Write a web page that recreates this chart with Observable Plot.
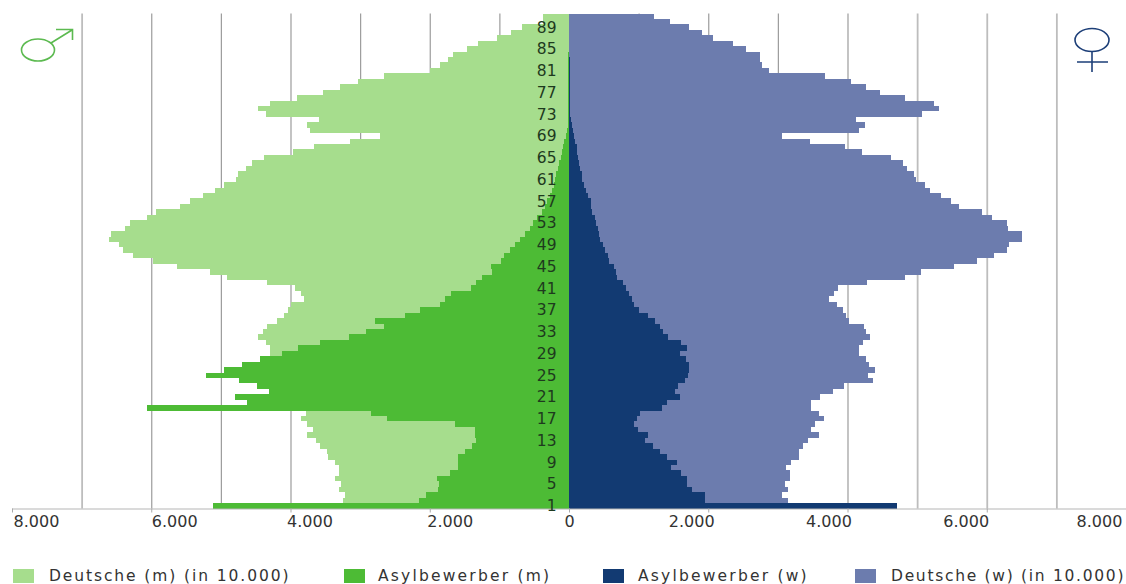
<!DOCTYPE html>
<html><head><meta charset="utf-8">
<script src="https://cdn.jsdelivr.net/npm/d3@7"></script>
<script src="https://cdn.jsdelivr.net/npm/@observablehq/plot@0.6"></script>
<style>
html,body{margin:0;padding:0;background:#fff;overflow:hidden}
#wrap{position:relative;width:1126px;height:584px;overflow:hidden;font-family:"DejaVu Sans",sans-serif}
#chart svg{display:block}
.sw{position:absolute;top:569px;width:21px;height:14px}
.lb{position:absolute;top:568px;font-size:15.5px;line-height:16px;color:#333;white-space:nowrap}
#sym{position:absolute;left:0;top:0}
</style></head><body>
<div id="wrap"><div id="chart"></div></div>
<script>
// ages from 91 down to 1
const ages = [91,90,89,88,87,86,85,84,83,82,81,80,79,78,77,76,75,74,73,72,71,70,69,68,67,66,65,64,63,62,61,60,59,58,57,56,55,54,53,52,51,50,49,48,47,46,45,44,43,42,41,40,39,38,37,36,35,34,33,32,31,30,29,28,27,26,25,24,23,22,21,20,19,18,17,16,15,14,13,12,11,10,9,8,7,6,5,4,3,2,1];
const deutscheM = [370,370,670,840,1040,1300,1470,1670,1740,1850,2000,2660,3030,3290,3530,3910,4300,4470,4350,3590,3770,3720,2720,3150,3660,3960,4380,4560,4640,4750,4780,4960,5080,5250,5440,5590,5930,6060,6300,6380,6580,6610,6460,6400,6260,5980,5630,5150,4910,4340,3930,3850,3810,4000,4040,4100,4200,4340,4400,4470,4350,4300,4290,4290,4300,4320,4300,4250,4150,4050,3950,3900,3850,3780,3850,3770,3670,3770,3630,3570,3470,3460,3360,3300,3300,3360,3280,3300,3220,3240,3310];
const asylM = [0,0,0,0,0,0,0,10,10,10,10,10,10,10,10,10,10,15,15,20,20,30,50,70,80,100,120,140,160,180,200,220,240,270,320,350,390,460,510,560,630,700,780,850,940,970,1120,1100,1250,1340,1410,1690,1780,1850,2140,2360,2780,2660,2920,3160,3580,3890,4120,4440,4700,4950,5210,4740,4480,4310,4790,4620,6060,2840,2620,1640,1350,1350,1330,1400,1490,1590,1590,1590,1710,1900,1860,1880,2060,2160,5120];
const asylW = [0,0,0,0,0,0,0,5,10,10,10,10,10,15,15,15,15,20,20,30,40,60,70,90,110,120,130,150,160,180,190,210,240,270,310,310,330,380,390,410,430,450,490,510,560,570,640,670,690,780,820,860,910,940,1010,1130,1230,1300,1350,1420,1610,1690,1600,1680,1720,1730,1710,1660,1570,1520,1590,1410,1340,1020,970,940,990,1130,1090,1210,1300,1410,1550,1460,1610,1690,1690,1760,1960,1960,4710];
const deutscheW = [1220,1450,1730,1910,2070,2350,2540,2750,2740,2770,2870,3670,4050,4270,4460,4830,5240,5320,5070,4120,4250,4170,3060,3460,3970,4210,4630,4800,4850,4950,4980,5120,5180,5340,5490,5600,5930,6070,6290,6310,6500,6500,6320,6290,6100,5860,5530,5060,4830,4280,3870,3810,3730,3850,3930,3980,4020,4240,4270,4320,4220,4170,4170,4270,4310,4400,4300,4360,3950,3790,3610,3480,3480,3590,3660,3540,3470,3590,3430,3360,3300,3300,3190,3120,3180,3180,3100,3140,3060,3140,3140];
const gridDark = [-6000,-5000,-4000,-3000,-2000,-1000,1000,2000,3000,4000];
const gridLight = [-7000,5000,6000,7000];
const tickValues = [-8000,-6000,-4000,-2000,0,2000,4000,6000,8000];
const tickShift = [24,23,19,20,0,-17,-19,-21,-27];
const ageLabels = [89,85,81,77,73,69,65,61,57,53,49,45,41,37,33,29,25,21,17,13,9,5,1];
const legendItems = ["Deutsche (m) (in 10.000)","Asylbewerber (m)","Asylbewerber (w)","Deutsche (w) (in 10.000)"];
const colors = ["#a6dd8d","#4dbb35","#123a72","#6c7cae"];
const legendSwatchX = [13,344,603,855];
const legendTextX = [49,378,638,891];
const legendSpacing = [1.9,2.2,2.2,1.7];

const fmt = d => Math.abs(d).toLocaleString("de-DE");
const series = (values, sign) => ages.map((a,i)=>({age:a, v:sign*values[i]}));
const bar = (values, sign, fill) => Plot.barX(series(values,sign),{x:"v",y:"age",fill,shapeRendering:"crispEdges"});
const tickText = (v, dx) => Plot.text([v],{x:d=>d,frameAnchor:"bottom",dy:17.5,dx,text:fmt,fontSize:16,fill:"#333"});

const plot = Plot.plot({
  width:1126, height:550,
  marginLeft:12, marginRight:0, marginTop:13.5, marginBottom:41.5,
  x:{domain:[-8000,8000],axis:null},
  y:{type:"band",domain:ages,padding:0,round:false,axis:null},
  style:{background:"#fff",fontFamily:'"DejaVu Sans",sans-serif',overflow:"hidden"},
  marks:[
    Plot.ruleX(gridDark,{stroke:"#9c9c9c",strokeWidth:1.2}),
    Plot.ruleX(gridLight,{stroke:"#bdbdbd",strokeWidth:1.8}),
    bar(deutscheM,-1,colors[0]),
    bar(deutscheW,1,colors[3]),
    bar(asylM,-1,colors[1]),
    bar(asylW,1,colors[2]),
    Plot.frame({anchor:"bottom",stroke:"#b5b5b5"}),
    Plot.axisX({ticks:tickValues,tickSize:4,tickFormat:()=>"",stroke:"#aaa",label:null}),
    ...tickValues.map((v,i)=>tickText(v,tickShift[i])),
    Plot.text(ageLabels,{x:()=>0,y:d=>d,dx:-13,textAnchor:"end",text:d=>String(d),fontSize:15.5,fill:"#1e3a1e"})
  ]
});
const wrap = document.getElementById("wrap");
document.getElementById("chart").append(plot);
legendItems.forEach((t,i)=>{
  const s=document.createElement("div");s.className="sw";s.style.left=legendSwatchX[i]+"px";s.style.background=colors[i];wrap.append(s);
  const l=document.createElement("div");l.className="lb";l.style.left=legendTextX[i]+"px";l.style.letterSpacing=legendSpacing[i]+"px";l.textContent=t;wrap.append(l);
});
const sym = document.createElementNS("http://www.w3.org/2000/svg","svg");
sym.setAttribute("id","sym");sym.setAttribute("width",1126);sym.setAttribute("height",90);
sym.innerHTML=`<g fill="none" stroke="#5cba50" stroke-width="1.6"><ellipse cx="38" cy="50" rx="16.5" ry="11"/><path d="M51 43L72 30M56 29.5H72.5V40"/></g>
<g fill="none" stroke="#1d3f78" stroke-width="1.6"><ellipse cx="1092" cy="40" rx="17" ry="11.5"/><path d="M1092 51.5V72M1077 62H1108"/></g>`;
wrap.append(sym);
</script></body></html>
